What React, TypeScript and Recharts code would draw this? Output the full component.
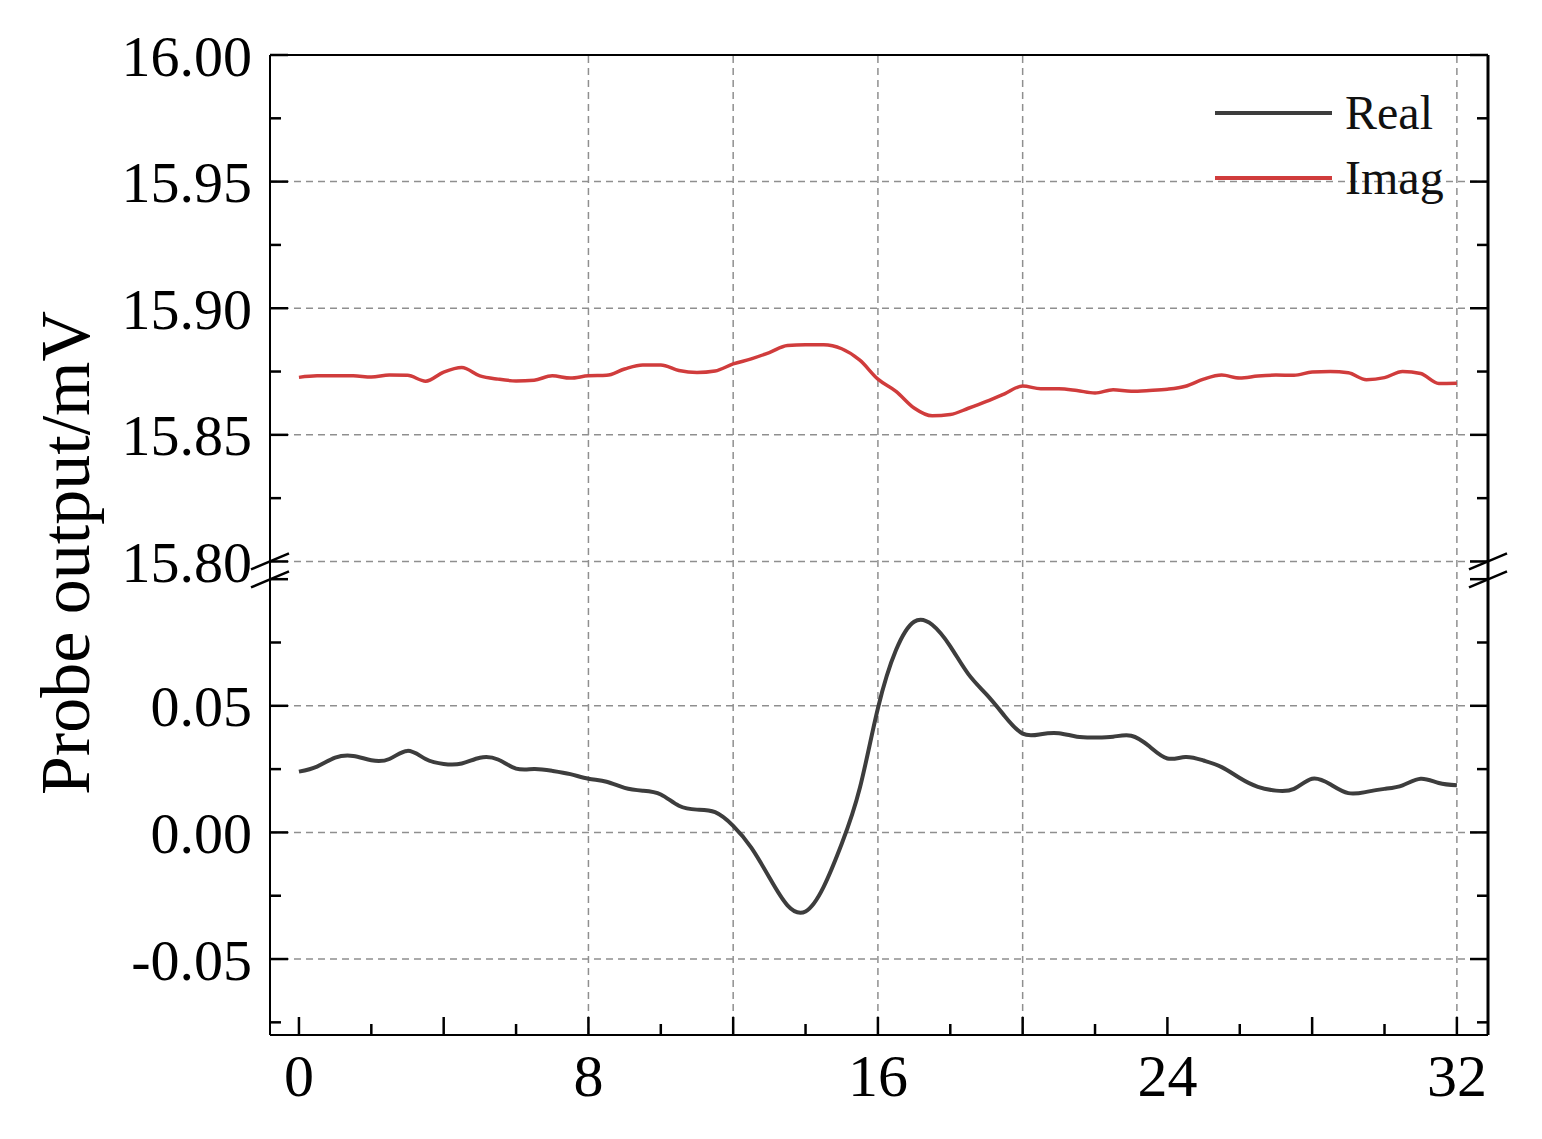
import React from "react";
import {
  LineChart,
  Line,
  XAxis,
  YAxis,
  CartesianGrid,
  ReferenceLine,
  ReferenceDot,
  Legend,
} from "recharts";

// time axis (x) and the two probe channels
const TIME = [
  0, 0.5, 1, 1.5, 2, 2.5, 3, 3.5, 4, 4.5, 5, 5.5, 6, 6.5, 7, 7.5, 8, 8.5, 9, 9.5, 10, 10.5, 11, 11.5,
  12, 12.5, 13, 13.5, 14, 14.5, 15, 15.5, 16, 16.5, 17, 17.5, 18, 18.5, 19, 19.5, 20, 20.5, 21, 21.5,
  22, 22.5, 23, 23.5, 24, 24.5, 25, 25.5, 26, 26.5, 27, 27.5, 28, 28.5, 29, 29.5, 30, 30.5, 31, 31.5, 32,
];

const REAL = [
  0.024, 0.026, 0.0295, 0.0302, 0.0285, 0.029, 0.0322, 0.029, 0.027, 0.0272, 0.0295, 0.0288, 0.0252,
  0.025, 0.0243, 0.023, 0.0212, 0.02, 0.0176, 0.0165, 0.015, 0.0105, 0.009, 0.008, 0.0026, -0.006,
  -0.0178, -0.0288, -0.0312, -0.0215, -0.0045, 0.0175, 0.049, 0.072, 0.0832, 0.082, 0.0735, 0.0625,
  0.0545, 0.046, 0.039, 0.0388, 0.0392, 0.0378, 0.0375, 0.0378, 0.0382, 0.034, 0.0292, 0.0298, 0.0284,
  0.0258, 0.0215, 0.018, 0.0165, 0.0172, 0.0212, 0.019, 0.0155, 0.016, 0.0172, 0.0186, 0.0212, 0.0195,
  0.0186,
];

const IMAG = [
  15.8727, 15.8733, 15.8733, 15.8733, 15.8728, 15.8736, 15.8735, 15.8712, 15.8748, 15.8766, 15.8733,
  15.872, 15.8713, 15.8716, 15.8733, 15.8724, 15.8733, 15.8735, 15.876, 15.8776, 15.8776, 15.8754,
  15.8746, 15.8752, 15.878, 15.88, 15.8825, 15.8853, 15.8856, 15.8856, 15.884, 15.8795, 15.872,
  15.8672, 15.8606, 15.8575, 15.858, 15.8605, 15.8632, 15.8662, 15.8693, 15.8682, 15.8682, 15.8675,
  15.8665, 15.8678, 15.8672, 15.8675, 15.868, 15.8692, 15.872, 15.8736, 15.8724, 15.8732, 15.8736,
  15.8735, 15.8748, 15.875, 15.8745, 15.8718, 15.8726, 15.875, 15.8742, 15.8703, 15.8704,
];

const LEGEND_ORDER = ["Real", "Imag"];

// tick positions
const X_LABELS = [0, 8, 16, 24, 32];
const X_MAJOR = [0, 4, 8, 12, 16, 20, 24, 28, 32];
const X_MINOR = [2, 6, 10, 14, 18, 22, 26, 30];
const X_GRID = [8, 12, 16, 20, 32];

const LOWER_LABELS = [-0.05, 0, 0.05];
const LOWER_MAJOR = [-0.05, 0, 0.05, 0.1];
const LOWER_MINOR = [-0.075, -0.025, 0.025, 0.075];
const UPPER_LABELS = [15.8, 15.85, 15.9, 15.95, 16.0];
const UPPER_MINOR = [15.825, 15.875, 15.925, 15.975];

// broken axis: lower segment -0.08..BREAK, upper segment 15.80..16.00 stacked above it
const LOWER_MIN = -0.08;
const BREAK = 0.107;
const UPPER_MIN = 15.8;
const UPPER_MAX = 16.0;
const up = (v: number) => v - UPPER_MIN + BREAK;
const Y_DOMAIN = [LOWER_MIN, up(UPPER_MAX)];
const X_DOMAIN = [-0.8, 32.86];

const SERIF = '"Liberation Serif", "Times New Roman", serif';
const W = 1526;
const H = 1123;
const GRID = { stroke: "#8f8f8f", strokeDasharray: "7 5", strokeWidth: 1.5 };
const TICK = { stroke: "#000", strokeWidth: 2.5 };
const AXIS = { stroke: "#000", strokeWidth: 2 };
const blank = () => "";

const yLabel = (v: number) =>
  v >= BREAK - 1e-6 ? (v - BREAK + UPPER_MIN).toFixed(2) : v.toFixed(2);

function YTitle({ viewBox }: any) {
  if (!viewBox) return null;
  const cx = viewBox.x + 45;
  const cy = viewBox.y + viewBox.height / 2 + 8;
  return (
    <text
      x={cx}
      y={cy}
      transform={`rotate(-90 ${cx} ${cy})`}
      textAnchor="middle"
      dominantBaseline="central"
      fontSize={70}
      fontFamily={SERIF}
      fill="#000"
    >
      Probe output/mV
    </text>
  );
}

function BreakMark({ cx, cy }: any) {
  if (cx == null || cy == null) return null;
  return (
    <g stroke="#000" strokeWidth={2.5}>
      <line x1={cx - 19} y1={cy + 8} x2={cx + 19} y2={cy - 8} />
      <line x1={cx - 19} y1={cy + 26} x2={cx + 19} y2={cy + 10} />
    </g>
  );
}

function LegendBox({ payload }: any) {
  const items = [...(payload ?? [])].sort(
    (a: any, b: any) => LEGEND_ORDER.indexOf(a.value) - LEGEND_ORDER.indexOf(b.value)
  );
  return (
    <div style={{ fontFamily: SERIF, fontSize: 48, color: "#111" }}>
      {items.map((p: any) => (
        <div key={p.value} style={{ display: "flex", alignItems: "center", height: 65 }}>
          <svg width={117} height={10}>
            <line x1={0} y1={5} x2={117} y2={5} stroke={p.color} strokeWidth={4} />
          </svg>
          <span style={{ marginLeft: 13 }}>{p.value}</span>
        </div>
      ))}
    </div>
  );
}

export default function App() {
  const rows = TIME.map((t, i) => ({ t, real: REAL[i], imag: IMAG[i] }));
  const labelTicks = [...LOWER_LABELS, ...UPPER_LABELS.map(up)];
  const majorTicks = [...LOWER_MAJOR, ...UPPER_LABELS.map(up)];
  const minorTicks = [...LOWER_MINOR, ...UPPER_MINOR.map(up)];

  return (
    <div style={{ width: W, height: H, background: "#fff" }}>
      <LineChart
        width={W}
        height={H}
        data={rows}
        margin={{ top: 47, right: 46, bottom: 16, left: 12 }}
      >
        <CartesianGrid vertical={false} {...GRID} />
        {X_GRID.map((x) => (
          <ReferenceLine key={x} x={x} {...GRID} />
        ))}

        <XAxis
          dataKey="t"
          type="number"
          domain={X_DOMAIN}
          allowDataOverflow
          ticks={X_LABELS}
          interval={0}
          height={80}
          tickLine={false}
          tickSize={0}
          tickMargin={18}
          axisLine={AXIS}
          tick={{ fontSize: 60, fill: "#000", fontFamily: SERIF }}
        />
        <XAxis
          xAxisId="xMaj"
          dataKey="t"
          type="number"
          domain={X_DOMAIN}
          allowDataOverflow
          mirror
          height={1}
          ticks={X_MAJOR}
          interval={0}
          tickSize={18}
          tickFormatter={blank}
          axisLine={false}
          tickLine={TICK}
        />
        <XAxis
          xAxisId="xMin"
          dataKey="t"
          type="number"
          domain={X_DOMAIN}
          allowDataOverflow
          mirror
          height={1}
          ticks={X_MINOR}
          interval={0}
          tickSize={10}
          tickFormatter={blank}
          axisLine={false}
          tickLine={TICK}
        />
        <XAxis
          xAxisId="top"
          dataKey="t"
          orientation="top"
          type="number"
          domain={X_DOMAIN}
          allowDataOverflow
          mirror
          height={1}
          ticks={[]}
          tick={false}
          tickLine={false}
          axisLine={AXIS}
        />

        <YAxis
          type="number"
          domain={Y_DOMAIN}
          allowDataOverflow
          ticks={labelTicks}
          interval={0}
          width={250}
          tickLine={false}
          tickSize={0}
          tickMargin={18}
          tickFormatter={yLabel}
          axisLine={AXIS}
          tick={{ fontSize: 58, fill: "#000", fontFamily: SERIF }}
          label={<YTitle />}
        />
        <YAxis
          yAxisId="lMaj"
          type="number"
          domain={Y_DOMAIN}
          allowDataOverflow
          mirror
          width={1}
          ticks={majorTicks}
          interval={0}
          tickSize={18}
          tickFormatter={blank}
          axisLine={false}
          tickLine={TICK}
        />
        <YAxis
          yAxisId="lMin"
          type="number"
          domain={Y_DOMAIN}
          allowDataOverflow
          mirror
          width={1}
          ticks={minorTicks}
          interval={0}
          tickSize={10}
          tickFormatter={blank}
          axisLine={false}
          tickLine={TICK}
        />
        <YAxis
          yAxisId="rMaj"
          orientation="right"
          type="number"
          domain={Y_DOMAIN}
          allowDataOverflow
          mirror
          width={1}
          ticks={majorTicks}
          interval={0}
          tickSize={18}
          tickFormatter={blank}
          axisLine={{ stroke: "#000", strokeWidth: 3 }}
          tickLine={TICK}
        />
        <YAxis
          yAxisId="rMin"
          orientation="right"
          type="number"
          domain={Y_DOMAIN}
          allowDataOverflow
          mirror
          width={1}
          ticks={minorTicks}
          interval={0}
          tickSize={10}
          tickFormatter={blank}
          axisLine={false}
          tickLine={TICK}
        />

        <Line
          type="natural"
          dataKey="real"
          name="Real"
          stroke="#3d3d3d"
          strokeWidth={4}
          dot={false}
          isAnimationActive={false}
        />
        <Line
          type="monotone"
          dataKey={(d: any) => up(d.imag)}
          name="Imag"
          stroke="#d03c3c"
          strokeWidth={3.5}
          dot={false}
          isAnimationActive={false}
        />

        <ReferenceDot
          x={X_DOMAIN[0]}
          y={BREAK}
          r={1}
          ifOverflow="visible"
          shape={(p: any) => <BreakMark cx={p.cx} cy={p.cy} />}
        />
        <ReferenceDot
          x={X_DOMAIN[1]}
          y={BREAK}
          r={1}
          ifOverflow="visible"
          shape={(p: any) => <BreakMark cx={p.cx} cy={p.cy} />}
        />

        <Legend
          layout="horizontal"
          verticalAlign="middle"
          align="center"
          content={<LegendBox />}
          wrapperStyle={{ position: "absolute", top: 72, left: 1207, width: 260, height: 130 }}
        />
      </LineChart>
    </div>
  );
}
